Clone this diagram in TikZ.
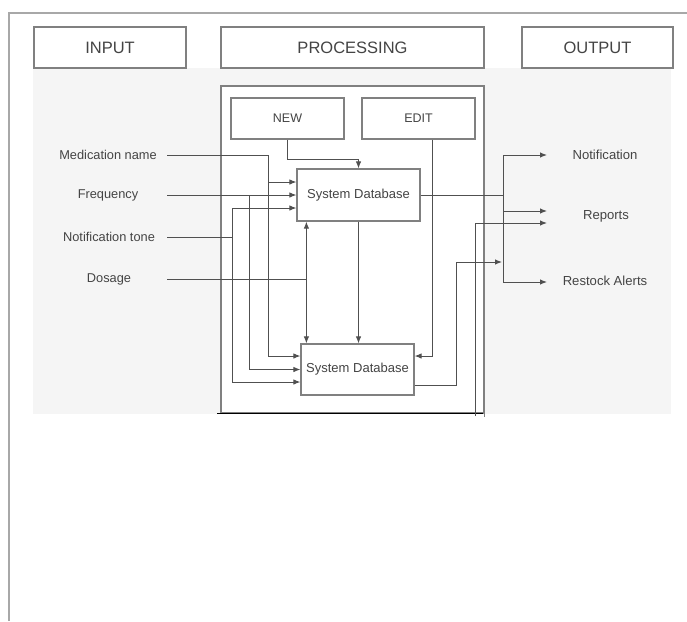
\documentclass[tikz,border=0pt]{standalone}
\usepackage{fontspec}
\setmainfont{Liberation Sans}
\usetikzlibrary{arrows.meta,calc}
\definecolor{bgc}{HTML}{F5F5F5}
\definecolor{boxc}{HTML}{808080}
\definecolor{linec}{HTML}{505050}
\definecolor{txt}{HTML}{444444}
\definecolor{framec}{HTML}{A8A8A8}
\begin{document}
\begin{tikzpicture}[x=1pt,y=-1pt,
  hdr/.style={draw=boxc, fill=white, line width=1.2pt, minimum width=#1, minimum height=41pt, inner sep=0pt, font=\fontsize{16.5}{18}\selectfont, text=txt},
  pbox/.style={draw=boxc, fill=white, line width=1.2pt, minimum width=#1, inner sep=0pt, font=\fontsize{12.5}{14}\selectfont, text=txt},
  lbl/.style={inner sep=0pt, font=\fontsize{12.8}{14}\selectfont, text=txt},
  conn/.style={draw=linec, line width=1pt},
  arr/.style={conn, -{Latex[length=7pt,width=5.5pt]}},
  darr/.style={conn, {Latex[length=7pt,width=5.5pt]}-{Latex[length=7pt,width=5.5pt]}}
]
\useasboundingbox (0,0) rectangle (687,621);
% frame
\draw[framec, line width=1.2pt] (9,621) -- (9,13) -- (687,13);
% gray background
\fill[bgc] (33,68) rectangle (671,414);
% headers
\node[hdr=152] (inH) at (110,47.5) {INPUT};
\node[hdr=263] (procH) at (352.5,47.5) {PROCESSING};
\node[hdr=151] (outH) at (597.5,47.5) {OUTPUT};
% processing container
\node[draw=boxc, fill=white, line width=1.2pt, minimum width=263, minimum height=327, inner sep=0pt] (proc) at (352.5,249.5) {};
\draw[boxc, line width=1.2pt] (proc.south east) -- ++(0,3);
\draw[black, line width=1.2pt] ($(proc.south west)+(-3,0)$) -- ($(proc.south east)+(-2,0)$);
% inner boxes
\node[pbox=113, minimum height=41] (new) at (287.5,118.5) {NEW};
\node[pbox=113, minimum height=41] (edit) at (418.5,118.5) {EDIT};
\node[pbox=123, minimum height=52, font=\fontsize{13}{15}\selectfont] (db1) at (358.5,195) {System Database};
\node[pbox=113, minimum height=51, font=\fontsize{13}{15}\selectfont] (db2) at (357.5,369.5) {System Database};
% input labels
\node[lbl] (med) at (108,155) {Medication name};
\node[lbl] (freq) at (108,195) {Frequency};
\node[lbl] (tone) at (109,237) {Notification tone};
\node[lbl] (dos) at (109,279) {Dosage};
\coordinate (lx) at (167,0);
% output labels
\node[lbl, font=\fontsize{13.1}{15}\selectfont] (onot) at (605,155) {Notification};
\node[lbl, font=\fontsize{13.1}{15}\selectfont] (orep) at (606,216) {Reports};
\node[lbl, font=\fontsize{13.1}{15}\selectfont] (ores) at (605,281) {Restock Alerts};
\coordinate (ox) at (547,0);
% medication name
\draw[arr] (med -| lx) -- (268,155) |- ($(db2.west)+(0,-13.5)$);
\draw[arr] (268,182) -- ($(db1.west)+(0,-13)$);
% frequency
\draw[arr] (freq -| lx) -- (db1.west);
\draw[arr] (249,195) |- (db2.west);
% notification tone
\draw[arr] (tone -| lx) -- (232,237) |- ($(db1.west)+(0,13)$);
\draw[arr] (232,237) |- ($(db2.west)+(0,12.5)$);
% dosage
\draw[conn] (dos -| lx) -- (307,279);
\draw[darr] ($(db1.south west)+(10,0)$) -- ($(db2.north west)+(6,0)$);
% db1 -> db2
\draw[arr] (db1.south) -- (db1.south |- db2.north);
% NEW -> db1
\draw[arr] (new.south) -- (287.5,159) -| (db1.north);
% EDIT -> db2
\draw[arr] ($(edit.south)+(13.5,0)$) |- ($(db2.east)+(0,-13.5)$);
% outputs bus
\draw[conn] (db1.east) -- (503,195);
\draw[conn] (503,155) -- (503,282);
\draw[arr] (503,155) -- (onot -| ox);
\draw[arr] (503,211) -- (ox |- 0,211);
\draw[arr] (503,282) -- (ox |- 0,282);
% db2 -> bus
\draw[arr] ($(db2.east)+(0,15.5)$) -- (456,385) |- (502,262);
% line from below to reports
\draw[arr] (475,416) |- (ox |- 0,223);
\end{tikzpicture}
\end{document}
